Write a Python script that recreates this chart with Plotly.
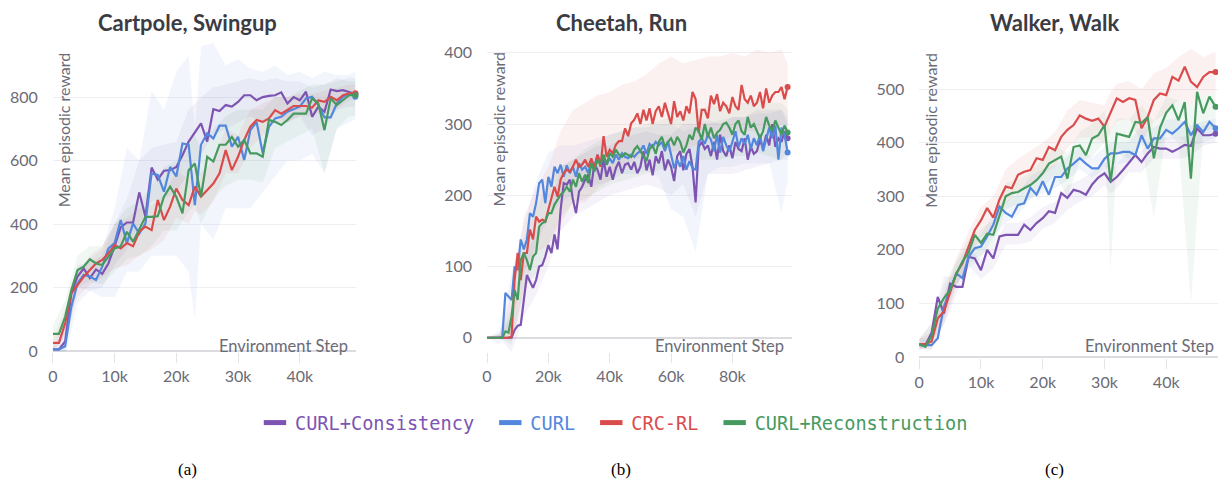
import plotly.graph_objects as go

# ---- data (mean episodic reward, one evaluation every 1k environment steps) ----
SERIES = ['CURL+Consistency', 'CURL', 'CRC-RL', 'CURL+Reconstruction']
COLORS = {'CURL+Consistency': '#7D54B2', 'CURL': '#5387DD',
          'CRC-RL': '#DA4C4C', 'CURL+Reconstruction': '#479A5F'}

# Cartpole, Swingup
steps_a = list(range(0, 50000, 1000))
purple_a = [5, 5, 30, 180, 235, 260, 230, 257, 243, 276, 330, 390, 405, 405, 500, 423, 578, 540, 568, 570,
            580, 617, 660, 690, 717, 660, 762, 756, 775, 770, 785, 806, 806, 790, 800, 804, 806, 815, 780, 800,
            790, 817, 738, 770, 754, 824, 819, 822, 817, 810]
blue_a = [5, 5, 15, 140, 213, 240, 235, 224, 266, 323, 340, 413, 340, 402, 370, 402, 560, 555, 502, 580,
          550, 654, 650, 460, 650, 686, 670, 710, 710, 644, 675, 602, 696, 722, 623, 706, 733, 738, 754, 761,
          770, 796, 801, 775, 736, 736, 780, 801, 812, 801]
red_a = [26, 26, 87, 182, 208, 234, 255, 276, 287, 308, 334, 323, 340, 330, 376, 392, 381, 476, 413, 455,
         512, 476, 460, 518, 486, 507, 528, 560, 633, 570, 612, 665, 707, 728, 722, 733, 759, 748, 759, 772,
         772, 772, 767, 790, 785, 801, 790, 806, 812, 812]
green_a = [54, 54, 108, 192, 255, 266, 289, 276, 271, 297, 323, 330, 376, 344, 381, 423, 423, 425, 486, 518,
           486, 434, 570, 591, 486, 612, 597, 650, 650, 675, 644, 665, 623, 623, 612, 728, 722, 712, 728, 748,
           748, 748, 796, 780, 696, 796, 775, 790, 806, 806]
band_steps_a = [k * 1000 for k in [0, 2, 4, 6, 8, 10, 12, 14, 16, 18, 20, 22, 23, 24, 26, 28, 30, 32, 34,
                                   36, 38, 40, 42, 44, 46, 48, 49]]
purple_a_lo = [0, 0, 200, 190, 200, 270, 320, 400, 470, 480, 500, 560, 590, 620, 680, 700, 720, 740, 720,
               740, 720, 740, 680, 700, 760, 770, 770]
purple_a_hi = [20, 60, 270, 280, 300, 400, 480, 600, 640, 650, 660, 760, 780, 800, 830, 840, 850, 860, 850,
               860, 850, 850, 830, 840, 860, 850, 850]
blue_a_lo = [-10, -20, 150, 190, 170, 170, 250, 250, 300, 300, 300, 250, 100, 400, 350, 450, 450, 450, 500,
             550, 600, 600, 620, 560, 700, 720, 730]
blue_a_hi = [20, 100, 260, 290, 320, 450, 640, 600, 820, 760, 880, 930, 700, 960, 970, 900, 920, 890, 880,
             900, 870, 880, 860, 880, 870, 870, 880]
red_a_lo = [0, 50, 170, 210, 230, 260, 270, 300, 320, 350, 420, 400, 440, 430, 470, 560, 560, 640, 680,
            720, 720, 740, 740, 760, 760, 790, 790]
red_a_hi = [40, 130, 250, 300, 330, 400, 420, 450, 460, 490, 570, 540, 580, 560, 600, 700, 680, 760, 780,
            800, 800, 810, 810, 820, 830, 840, 840]
green_a_lo = [30, 60, 200, 220, 210, 250, 290, 300, 330, 380, 380, 440, 460, 400, 480, 520, 540, 540, 530,
              640, 660, 680, 700, 560, 700, 740, 740]
green_a_hi = [80, 160, 300, 330, 330, 400, 450, 470, 520, 580, 600, 660, 680, 640, 700, 740, 760, 760, 760,
              800, 800, 820, 840, 840, 850, 860, 860]

# Cheetah, Run
steps_b = list(range(0, 99000, 1000))
purple_b = [0, 0, 0, 0, 0, 0, 0, 0, 0, 11, 17, 18, 53, 88, 79, 70, 81, 100, 102, 114,
            130, 119, 145, 124, 180, 217, 215, 222, 194, 175, 205, 212, 222, 229, 212, 245, 236, 222, 250, 226,
            240, 222, 238, 247, 231, 243, 245, 236, 247, 231, 240, 262, 235, 250, 228, 255, 245, 262, 235, 250,
            240, 220, 255, 262, 235, 258, 265, 240, 190, 268, 275, 265, 270, 255, 275, 250, 285, 262, 255, 270,
            252, 275, 265, 262, 280, 250, 268, 258, 262, 278, 265, 285, 270, 300, 268, 280, 275, 290, 280]
blue_b = [0, 0, 0, 0, 0, 2, 63, 58, 53, 100, 95, 138, 124, 138, 175, 170, 189, 217, 222, 189,
          226, 212, 240, 231, 243, 226, 242, 231, 240, 226, 245, 236, 240, 231, 250, 240, 257, 247, 254, 243,
          252, 245, 257, 250, 259, 254, 252, 257, 254, 259, 262, 270, 258, 272, 268, 275, 270, 275, 262, 276,
          255, 238, 250, 240, 255, 236, 248, 238, 236, 275, 280, 272, 285, 278, 262, 285, 260, 282, 270, 262,
          275, 290, 268, 280, 272, 285, 265, 280, 270, 285, 262, 278, 295, 280, 298, 250, 295, 285, 260]
red_b = [0, 0, 0, 0, 0, 0, 0, 0, 2, 81, 119, 81, 119, 119, 152, 138, 170, 163, 166, 163,
         180, 198, 212, 198, 222, 231, 236, 233, 240, 250, 240, 243, 250, 240, 252, 238, 257, 240, 283, 254,
         264, 259, 271, 276, 276, 294, 283, 301, 306, 315, 300, 320, 305, 322, 300, 318, 325, 310, 330, 315,
         300, 332, 310, 318, 305, 325, 315, 345, 335, 288, 320, 320, 308, 340, 328, 342, 318, 330, 325, 315,
         338, 325, 320, 355, 335, 330, 340, 325, 330, 345, 322, 350, 330, 340, 345, 345, 352, 335, 352]
green_b = [0, 0, 0, 0, 0, 0, 9, 7, 30, 67, 53, 109, 119, 109, 95, 114, 119, 156, 161, 163,
           175, 175, 187, 194, 201, 205, 212, 205, 222, 212, 231, 219, 229, 217, 245, 233, 250, 243, 257, 243,
           259, 254, 264, 257, 254, 259, 257, 254, 264, 269, 262, 255, 248, 265, 270, 258, 275, 282, 268, 275,
           280, 270, 282, 275, 260, 270, 285, 278, 295, 290, 278, 300, 282, 295, 280, 288, 292, 300, 302, 295,
           285, 300, 305, 290, 285, 310, 295, 300, 290, 280, 290, 310, 298, 290, 305, 295, 285, 298, 288]
band_steps_b = [k * 1000 for k in [0, 4, 8, 12, 16, 20, 24, 28, 32, 36, 40, 44, 48, 52, 56, 60, 64, 68, 72,
                                   76, 80, 84, 88, 92, 96, 98]]
purple_b_lo = [0, 0, -20, 30, 60, 100, 150, 170, 180, 190, 200, 205, 210, 215, 210, 200, 215, 170, 230, 230,
               230, 235, 240, 245, 250, 250]
purple_b_hi = [0, 5, 30, 110, 150, 170, 240, 250, 260, 270, 270, 280, 285, 290, 285, 285, 300, 300, 305, 300,
               310, 310, 320, 320, 320, 310]
blue_b_lo = [0, -10, 20, 90, 130, 170, 190, 200, 210, 215, 220, 230, 230, 235, 225, 180, 170, 120, 230, 240,
             240, 245, 245, 245, 175, 220]
blue_b_hi = [0, 10, 90, 160, 220, 260, 270, 270, 275, 280, 285, 290, 295, 295, 300, 300, 290, 295, 300, 305,
             310, 310, 315, 315, 320, 300]
red_b_lo = [0, 0, -5, 60, 120, 130, 160, 190, 190, 210, 220, 240, 250, 255, 270, 260, 265, 270, 275, 270,
            285, 290, 290, 295, 300, 300]
red_b_hi = [0, 5, 60, 170, 210, 240, 290, 320, 330, 340, 345, 355, 360, 370, 385, 395, 385, 390, 395, 395,
            400, 395, 405, 400, 405, 385]
green_b_lo = [0, 0, -10, 70, 90, 130, 170, 190, 195, 205, 215, 220, 225, 230, 235, 240, 240, 250, 250, 250,
              255, 255, 260, 255, 250, 260]
green_b_hi = [0, 5, 40, 140, 180, 220, 240, 250, 265, 275, 285, 290, 295, 300, 305, 310, 310, 320, 325, 325,
              330, 330, 335, 330, 330, 320]

# Walker, Walk
steps_c = list(range(0, 49000, 1000))
purple_c = [22, 22, 45, 112, 81, 137, 131, 131, 187, 184, 162, 200, 184, 225, 228, 228, 228, 247, 237, 250,
            259, 272, 269, 306, 297, 312, 309, 303, 322, 335, 343, 327, 336, 349, 364, 377, 364, 380, 392, 389,
            389, 383, 389, 396, 394, 427, 414, 414, 417]
blue_c = [24, 22, 22, 35, 94, 125, 156, 147, 187, 203, 206, 225, 247, 281, 269, 262, 284, 287, 316, 303,
          328, 303, 336, 336, 352, 361, 371, 361, 352, 352, 370, 380, 380, 383, 383, 377, 414, 389, 408, 408,
          424, 417, 427, 439, 414, 433, 420, 439, 427]
red_c = [24, 24, 29, 72, 85, 119, 156, 175, 206, 237, 255, 278, 260, 294, 318, 315, 340, 346, 349, 371,
         368, 392, 386, 411, 424, 433, 451, 445, 441, 445, 430, 458, 483, 476, 483, 480, 427, 448, 480, 492,
         489, 523, 516, 542, 514, 504, 523, 532, 532]
green_c = [24, 19, 40, 90, 110, 125, 155, 178, 195, 228, 213, 230, 228, 265, 300, 306, 308, 315, 321, 330,
           343, 361, 368, 374, 333, 392, 395, 377, 408, 414, 433, 327, 417, 414, 411, 439, 437, 448, 371, 428,
           456, 470, 442, 476, 333, 495, 455, 486, 467]
band_steps_c = [k * 1000 for k in [0, 2, 4, 6, 8, 10, 12, 14, 16, 18, 20, 22, 24, 26, 28, 30, 31, 32, 34,
                                   36, 38, 40, 42, 44, 46, 48]]
purple_c_lo = [12, 30, 60, 115, 170, 145, 165, 210, 210, 215, 240, 250, 275, 290, 300, 320, 305, 315, 345,
               345, 370, 370, 370, 375, 395, 400]
purple_c_hi = [32, 65, 150, 150, 205, 180, 205, 250, 250, 260, 280, 290, 320, 330, 345, 365, 350, 360, 385,
               385, 412, 410, 410, 415, 432, 435]
blue_c_lo = [15, 12, 70, 135, 165, 185, 225, 250, 265, 295, 305, 315, 330, 350, 335, 350, 360, 360, 365,
             395, 390, 405, 410, 395, 400, 410]
blue_c_hi = [35, 35, 115, 175, 210, 228, 268, 290, 305, 338, 350, 358, 375, 392, 372, 392, 400, 400, 402,
             432, 428, 443, 445, 432, 440, 445]
red_c_lo = [15, 15, 60, 130, 180, 225, 235, 285, 310, 320, 340, 355, 390, 410, 410, 400, 420, 440, 445,
            400, 440, 455, 480, 470, 490, 495]
red_c_hi = [35, 45, 115, 185, 235, 280, 300, 350, 370, 385, 400, 420, 460, 480, 475, 470, 495, 510, 515,
            500, 530, 540, 560, 575, 560, 570]
green_c_lo = [15, 20, 90, 135, 175, 190, 205, 275, 285, 295, 315, 340, 300, 365, 375, 400, 160, 380, 370,
              400, 260, 420, 400, 100, 420, 430]
green_c_hi = [35, 60, 135, 180, 220, 240, 255, 325, 330, 345, 370, 395, 380, 420, 435, 460, 420, 445, 445,
              470, 440, 485, 480, 470, 490, 495]

PANELS = [
    dict(title='Cartpole, Swingup', caption='(a)', axis='', steps=steps_a, band_steps=band_steps_a,
         lines=[purple_a, blue_a, red_a, green_a],
         bands=[(purple_a_lo, purple_a_hi), (blue_a_lo, blue_a_hi), (red_a_lo, red_a_hi), (green_a_lo, green_a_hi)]),
    dict(title='Cheetah, Run', caption='(b)', axis='2', steps=steps_b, band_steps=band_steps_b,
         lines=[purple_b, blue_b, red_b, green_b],
         bands=[(purple_b_lo, purple_b_hi), (blue_b_lo, blue_b_hi), (red_b_lo, red_b_hi), (green_b_lo, green_b_hi)]),
    dict(title='Walker, Walk', caption='(c)', axis='3', steps=steps_c, band_steps=band_steps_c,
         lines=[purple_c, blue_c, red_c, green_c],
         bands=[(purple_c_lo, purple_c_hi), (blue_c_lo, blue_c_hi), (red_c_lo, red_c_hi), (green_c_lo, green_c_hi)]),
]

W, H = 1218, 481          # target picture size; positions below are given in these pixels
FIG_H = 489               # the page is captured a little taller than the window, so draw taller
FONT = 'Lato, Noto Sans, sans-serif'
TICK_GREY = '#6b6b76'


def rgba(hex_color, a):
    h = hex_color.lstrip('#')
    return f'rgba({int(h[0:2], 16)},{int(h[2:4], 16)},{int(h[4:6], 16)},{a})'


fig = go.Figure()

for p in PANELS:
    xa, ya = 'x' + p['axis'], 'y' + p['axis']
    for name, (lo, hi) in zip(SERIES, p['bands']):
        fig.add_trace(go.Scatter(
            x=p['band_steps'] + p['band_steps'][::-1], y=hi + lo[::-1],
            fill='toself', fillcolor=rgba(COLORS[name], 0.08), line=dict(width=0),
            mode='lines', hoverinfo='skip', showlegend=False, xaxis=xa, yaxis=ya))
    for name, vals in zip(SERIES, p['lines']):
        fig.add_trace(go.Scatter(
            x=p['steps'], y=vals, mode='lines', line=dict(color=COLORS[name], width=2.2),
            showlegend=False, xaxis=xa, yaxis=ya))
        fig.add_trace(go.Scatter(
            x=p['steps'][-1:], y=vals[-1:], mode='markers', cliponaxis=False,
            marker=dict(color=COLORS[name], size=6), showlegend=False, xaxis=xa, yaxis=ya))

# legend entries: short thick bar + coloured monospace text
for name in SERIES:
    fig.add_trace(go.Scatter(
        x=[None], y=[None], mode='markers',
        name=f'<span style="color:{COLORS[name]}">{name}</span>&nbsp;',
        marker=dict(symbol='line-ew', size=18, line=dict(width=5, color=COLORS[name]))))

axis_common = dict(showgrid=False, zeroline=False, showline=False, ticks='outside', ticklen=10,
                   tickcolor='#e4e4e8', tickwidth=1, ticklabelstandoff=0,
                   tickfont=dict(family=FONT, size=16, color=TICK_GREY))
yaxis_common = dict(showgrid=True, gridcolor='#efeff3', gridwidth=1, zeroline=True, zerolinecolor='#dcdce0',
                    zerolinewidth=2, showline=False, ticks='', ticklabelstandoff=14,
                    tickfont=dict(family=FONT, size=16, color=TICK_GREY))

x_dom = [(48 / W, 352 / W), (484 / W, 790 / W), (918 / W, 1.0)]
x_rng = [(0, 49030), (0, 99350), (0, 48390)]
x_dt = [10000, 20000, 10000]
y_dom = [(1 - 352 / H, 1 - 40 / H), (1 - 352 / H, 1 - 40 / H), (1 - 358 / H, 1 - 41 / H)]
y_rng = [(-3, 980), (-20, 418), (-2, 590)]
y_dt = [200, 100, 100]
title_x = [183, 619, 1054]

layout = dict(width=W, height=FIG_H, margin=dict(l=0, r=0, t=0, b=0), plot_bgcolor='white',
              paper_bgcolor='white', font=dict(family=FONT, color=TICK_GREY),
              legend=dict(orientation='h', x=617 / W, xanchor='center', y=1 - 423 / H, yanchor='middle',
                          font=dict(family='DejaVu Sans Mono', size=18.6), itemwidth=30,
                          bgcolor='rgba(0,0,0,0)'))
annotations = []
for i, p in enumerate(PANELS):
    s = p['axis']
    layout['xaxis' + s] = dict(axis_common, domain=list(x_dom[i]), range=list(x_rng[i]), dtick=x_dt[i],
                               tick0=0, anchor='y' + s)
    layout['yaxis' + s] = dict(yaxis_common, domain=list(y_dom[i]), range=list(y_rng[i]), dtick=y_dt[i],
                               tick0=0, anchor='x' + s)
    annotations.append(dict(text=f'<b>{p["title"]}</b>', x=title_x[i] / W, y=1 - 22 / H, xref='paper',
                            yref='paper', xanchor='center', yanchor='middle', showarrow=False,
                            font=dict(family=FONT, size=22, color='#3b3b44')))
    annotations.append(dict(text='Mean episodic reward', textangle=-90, x=0, xshift=11, y=1, yshift=-10,
                            xref=f'x{s} domain', yref=f'y{s} domain', xanchor='center', yanchor='top',
                            showarrow=False, font=dict(family=FONT, size=16, color=TICK_GREY)))
    annotations.append(dict(text='Environment Step', x=1, xshift=-6 if i < 2 else -2, y=1 - 346 / H,
                            xref=f'x{s} domain', yref='paper', xanchor='right', yanchor='middle',
                            showarrow=False, font=dict(family=FONT, size=16.5, color=TICK_GREY)))
    annotations.append(dict(text=p['caption'], x=title_x[i] / W, y=1 - 469 / H, xref='paper', yref='paper',
                            xanchor='center', yanchor='middle', showarrow=False,
                            font=dict(family='Liberation Serif', size=17, color='black')))
layout['annotations'] = annotations
fig.update_layout(**layout)

fig.write_html('out.html', config={'displayModeBar': False},
               post_script="document.body.style.margin='0';")
